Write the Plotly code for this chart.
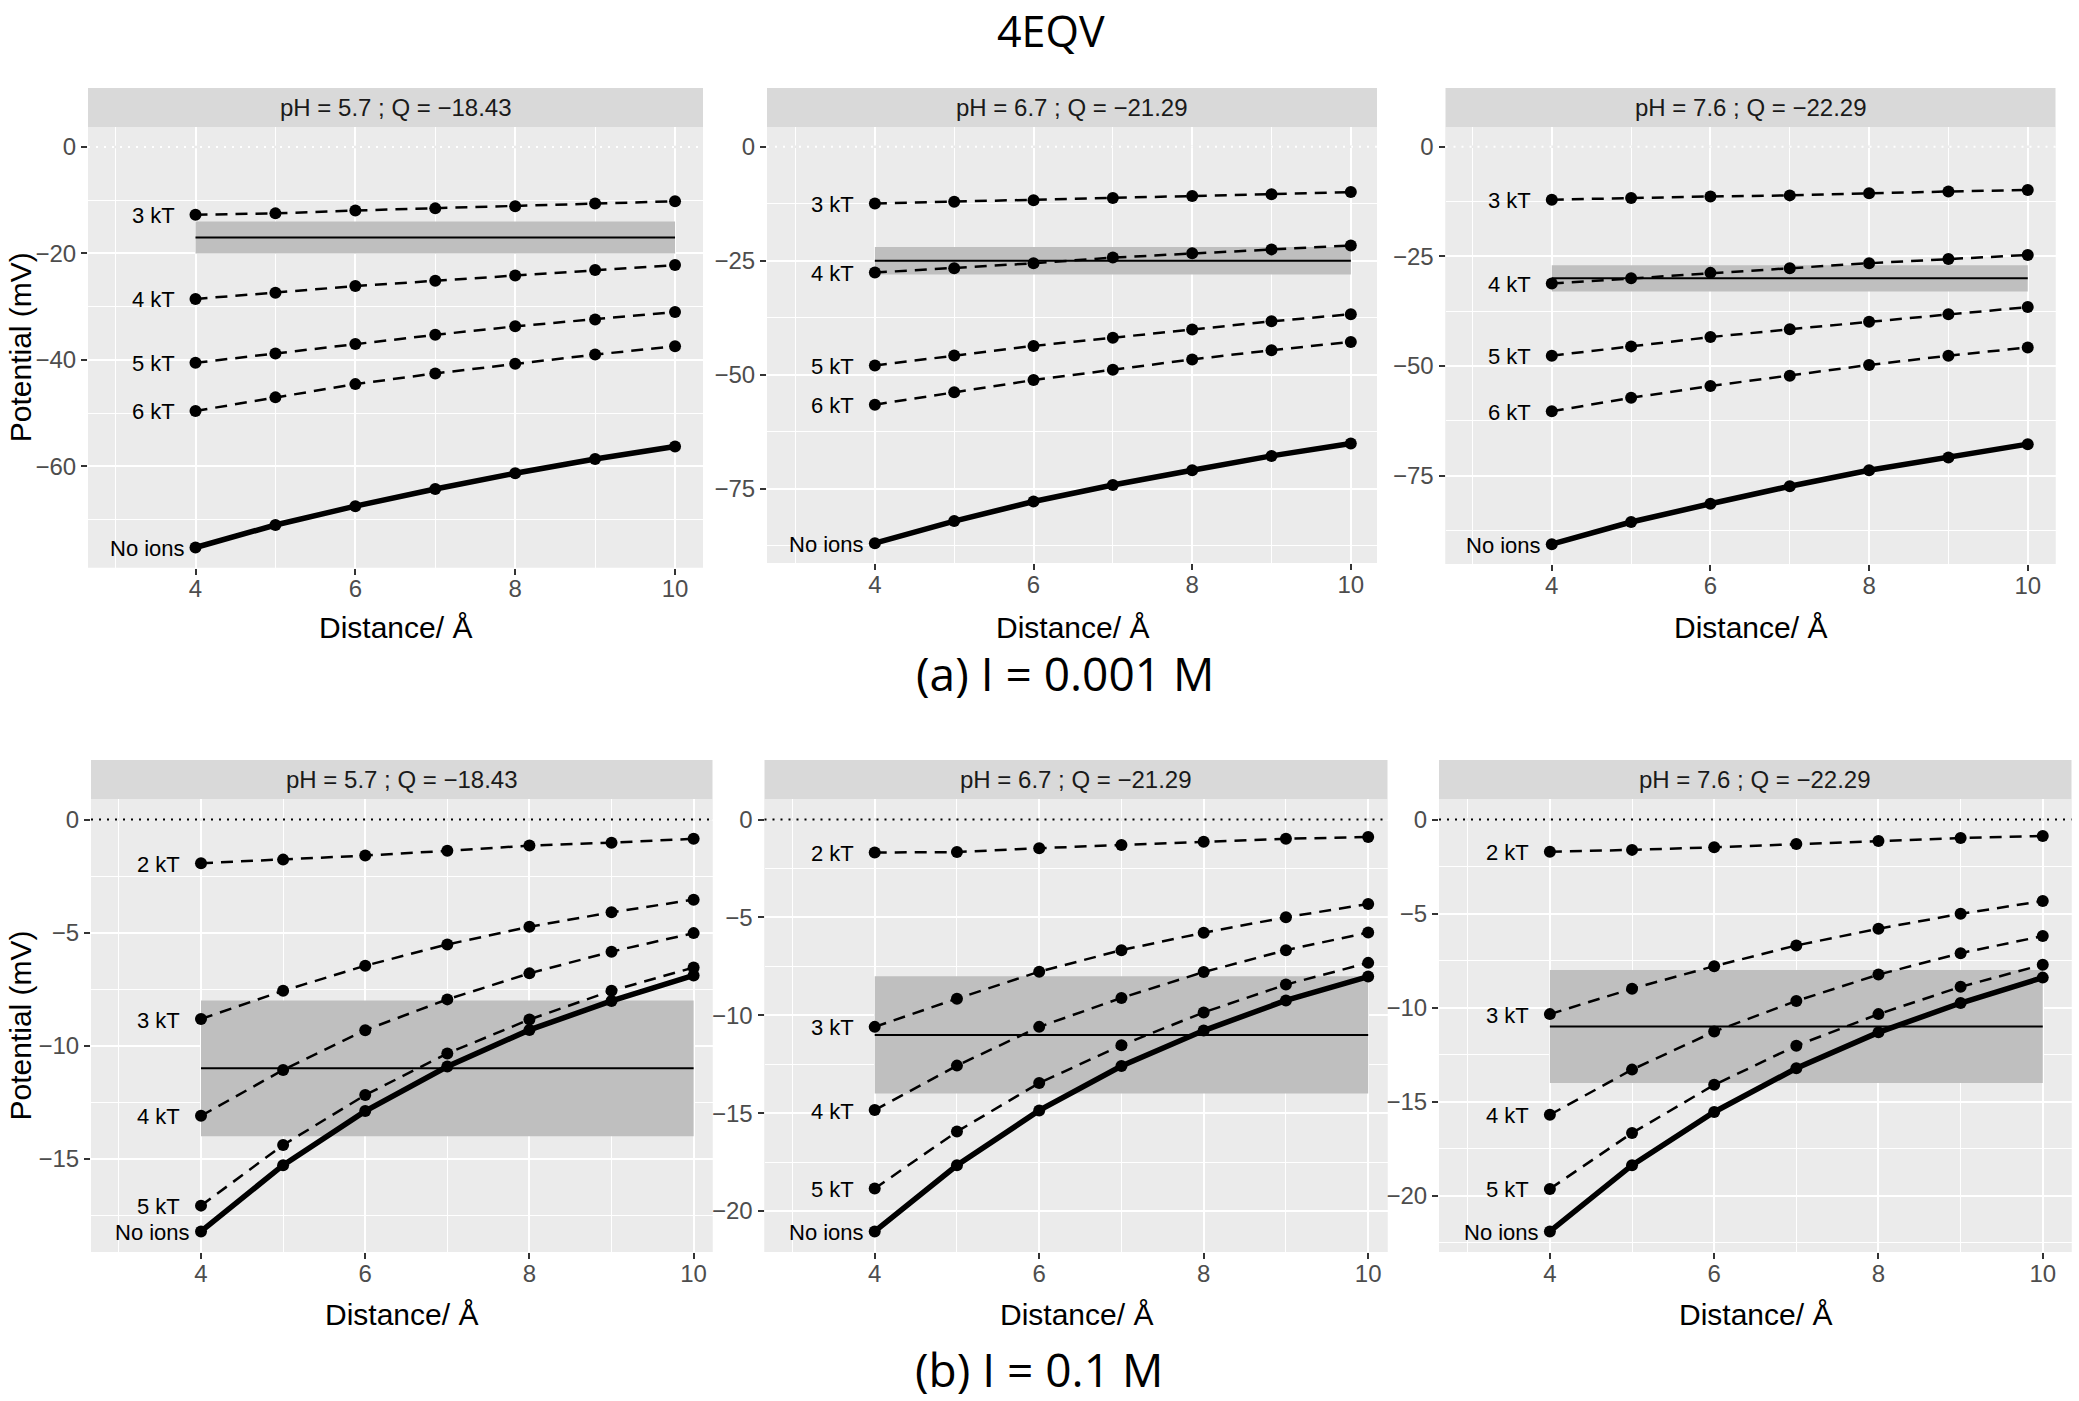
import plotly.graph_objects as go

W, H = 2079, 1401

distance = [4, 5, 6, 7, 8, 9, 10]

strip_titles = ["pH = 5.7 ; Q = \u221218.43", "pH = 6.7 ; Q = \u221221.29", "pH = 7.6 ; Q = \u221222.29"]

# ---- (a) I = 0.001 M ----
a_labels = ["3 kT", "4 kT", "5 kT", "6 kT", "No ions"]
a57_3kT = [-12.74, -12.47, -11.93, -11.53, -11.13, -10.60, -10.20]
a57_4kT = [-28.55, -27.40, -26.14, -25.14, -24.13, -23.13, -22.19]
a57_5kT = [-40.55, -38.80, -37.00, -35.30, -33.70, -32.40, -31.00]
a57_6kT = [-49.60, -47.05, -44.56, -42.55, -40.75, -39.00, -37.46]
a57_noions = [-75.26, -71.04, -67.50, -64.26, -61.32, -58.63, -56.29]

a67_3kT = [-12.42, -12.03, -11.72, -11.25, -10.78, -10.39, -9.92]
a67_4kT = [-27.58, -26.64, -25.55, -24.30, -23.36, -22.50, -21.64]
a67_5kT = [-47.97, -45.78, -43.67, -41.88, -40.08, -38.28, -36.72]
a67_6kT = [-56.56, -53.83, -51.17, -48.90, -46.64, -44.61, -42.81]
a67_noions = [-86.95, -82.10, -77.80, -74.20, -70.94, -67.80, -65.08]

a76_3kT = [-12.05, -11.65, -11.32, -11.07, -10.59, -10.18, -9.85]
a76_4kT = [-31.19, -29.97, -28.75, -27.69, -26.55, -25.57, -24.67]
a76_5kT = [-47.64, -45.52, -43.40, -41.61, -39.90, -38.19, -36.56]
a76_6kT = [-60.34, -57.25, -54.56, -52.20, -49.76, -47.64, -45.77]
a76_noions = [-90.64, -85.59, -81.43, -77.44, -73.78, -70.85, -67.83]

# ---- (b) I = 0.1 M ----
b_labels = ["2 kT", "3 kT", "4 kT", "5 kT", "No ions"]
b57_2kT = [-1.93, -1.77, -1.59, -1.38, -1.15, -1.02, -0.85]
b57_3kT = [-8.82, -7.57, -6.46, -5.52, -4.74, -4.10, -3.54]
b57_4kT = [-13.10, -11.07, -9.31, -7.95, -6.80, -5.84, -5.02]
b57_5kT = [-17.07, -14.39, -12.18, -10.34, -8.84, -7.57, -6.54]
b57_noions = [-18.21, -15.28, -12.89, -10.92, -9.30, -8.02, -6.89]

b67_2kT = [-1.68, -1.66, -1.46, -1.30, -1.13, -0.98, -0.89]
b67_3kT = [-10.59, -9.15, -7.77, -6.67, -5.78, -4.99, -4.31]
b67_4kT = [-14.84, -12.57, -10.59, -9.11, -7.79, -6.67, -5.77]
b67_5kT = [-18.85, -15.94, -13.46, -11.53, -9.85, -8.43, -7.32]
b67_noions = [-21.04, -17.66, -14.86, -12.59, -10.78, -9.24, -8.02]

b76_2kT = [-1.71, -1.61, -1.47, -1.30, -1.14, -0.98, -0.87]
b76_3kT = [-10.34, -8.99, -7.79, -6.69, -5.80, -5.01, -4.33]
b76_4kT = [-15.69, -13.29, -11.27, -9.64, -8.24, -7.10, -6.19]
b76_5kT = [-19.63, -16.66, -14.10, -12.02, -10.34, -8.89, -7.71]
b76_noions = [-21.89, -18.37, -15.54, -13.22, -11.31, -9.75, -8.40]

# shaded bands (centre, half-width) per panel
band_centre = [-17, -25, -30, -11, -11, -11]
band_half = [3, 3, 3, 3, 3, 3]

y_dtick = [20, 25, 25, 5, 5, 5]

panels_series = [
    (a_labels, [a57_3kT, a57_4kT, a57_5kT, a57_6kT, a57_noions]),
    (a_labels, [a67_3kT, a67_4kT, a67_5kT, a67_6kT, a67_noions]),
    (a_labels, [a76_3kT, a76_4kT, a76_5kT, a76_6kT, a76_noions]),
    (b_labels, [b57_2kT, b57_3kT, b57_4kT, b57_5kT, b57_noions]),
    (b_labels, [b67_2kT, b67_3kT, b67_4kT, b67_5kT, b67_noions]),
    (b_labels, [b76_2kT, b76_3kT, b76_4kT, b76_5kT, b76_noions]),
]

# panel boxes in pixels: left, right, top, bottom
boxes = [
    (88, 703, 127, 567.5),
    (767, 1377, 127, 563),
    (1445.5, 2055.5, 127, 564),
    (91, 712.5, 799, 1252),
    (764.5, 1387.5, 799, 1252),
    (1439, 2071.5, 799, 1252),
]
x_ranges = [(2.655, 10.35), (2.64, 10.33), (2.66, 10.35), (2.66, 10.23), (2.66, 10.235), (2.65, 10.35)]
strip_h = 39

FONT = "Liberation Sans, Arial, sans-serif"

def px(x):
    return x / W

def py(y):
    return 1 - y / H

fig = go.Figure()
layout = {}
annotations = []
shapes = []

for i in range(6):
    n = i + 1
    xa = "x" if n == 1 else f"x{n}"
    ya = "y" if n == 1 else f"y{n}"
    l, r, t, b = boxes[i]
    labels, series = panels_series[i]

    ymin = min(min(s) for s in series)
    span = 0 - ymin
    yr = [ymin - 0.05 * span, 0 + 0.05 * span]

    layout["xaxis" if n == 1 else f"xaxis{n}"] = dict(
        domain=[px(l), px(r)], anchor=ya, range=list(x_ranges[i]),
        tick0=0, dtick=2, showgrid=True, gridcolor="white", gridwidth=2,
        minor=dict(dtick=1, tick0=0, showgrid=True, gridcolor="white", gridwidth=1),
        zeroline=False, ticks="outside", ticklen=6, tickwidth=2, tickcolor="#333333",
        ticklabelstandoff=-6,
        tickfont=dict(family=FONT, size=24, color="#4d4d4d"), showline=False,
    )
    layout["yaxis" if n == 1 else f"yaxis{n}"] = dict(
        domain=[py(b), py(t)], anchor=xa, range=yr,
        tick0=0, dtick=y_dtick[i], showgrid=True, gridcolor="white", gridwidth=2,
        minor=dict(dtick=y_dtick[i] / 2, tick0=0, showgrid=True, gridcolor="white", gridwidth=1),
        zeroline=False, ticks="outside", ticklen=6, tickwidth=2, tickcolor="#333333",
        tickfont=dict(family=FONT, size=24, color="#4d4d4d"), showline=False,
    )

    # panel background
    shapes.append(dict(type="rect", xref="paper", yref="paper", x0=px(l), x1=px(r), y0=py(b), y1=py(t),
                       fillcolor="#ebebeb", line=dict(width=0), layer="below"))
    # strip
    shapes.append(dict(type="rect", xref="paper", yref="paper", x0=px(l), x1=px(r), y0=py(t), y1=py(t - strip_h),
                       fillcolor="#d9d9d9", line=dict(width=0), layer="below"))
    annotations.append(dict(text=strip_titles[i % 3], xref="paper", yref="paper", x=px((l + r) / 2),
                            y=py(t - strip_h / 2), showarrow=False, xanchor="center", yanchor="middle",
                            font=dict(family=FONT, size=24, color="#1a1a1a")))

    # zero dotted line
    zc = "white" if i < 3 else "black"
    shapes.append(dict(type="line", xref=f"{xa} domain", yref=ya, x0=0, x1=1, y0=0, y1=0,
                       line=dict(color="#ebebeb", width=2.5), layer="above"))
    shapes.append(dict(type="line", xref=f"{xa} domain", yref=ya, x0=0, x1=1, y0=0, y1=0,
                       line=dict(color=zc, width=2, dash="2px,6px"), layer="above"))

    # band
    c, h = band_centre[i], band_half[i]
    fig.add_trace(go.Scatter(x=[4, 10, 10, 4, 4], y=[c - h, c - h, c + h, c + h, c - h], mode="lines",
                             fill="toself", fillcolor="#bfbfbf", line=dict(width=0), xaxis=xa, yaxis=ya,
                             hoverinfo="skip", showlegend=False))
    fig.add_trace(go.Scatter(x=[4, 10], y=[c, c], mode="lines", line=dict(color="black", width=2),
                             xaxis=xa, yaxis=ya, hoverinfo="skip", showlegend=False))

    for lab, s in zip(labels, series):
        solid = lab == "No ions"
        fig.add_trace(go.Scatter(
            x=distance, y=s, mode="lines+markers", xaxis=xa, yaxis=ya, showlegend=False,
            line=dict(color="black", width=5.5 if solid else 2.5, dash="solid" if solid else "12px,8px"),
            marker=dict(color="black", size=12),
        ))
        annotations.append(dict(text=lab, xref=xa, yref=ya, x=distance[0], y=s[0], showarrow=False,
                                xanchor="right", yanchor="middle", xshift=-9 if solid else -19, yshift=-1,
                                font=dict(family=FONT, size=22, color="black")))

    # x-axis title
    ty = 627 if i < 3 else 1314
    annotations.append(dict(text="Distance/ \u00c5", xref="paper", yref="paper", x=px((l + r) / 2), y=py(ty),
                            showarrow=False, xanchor="center", yanchor="middle",
                            font=dict(family=FONT, size=30, color="black")))
    if i in (0, 3):
        annotations.append(dict(text="Potential (mV)", xref="paper", yref="paper", x=px(20), y=py((t + b) / 2),
                                showarrow=False, textangle=-90, xanchor="center", yanchor="middle",
                                font=dict(family=FONT, size=30, color="black")))

TFONT = "Open Sans, Noto Sans, sans-serif"
annotations.append(dict(text="4EQV", xref="paper", yref="paper", x=px(1051), y=1, showarrow=False, borderpad=0,
                        xanchor="center", yanchor="top", font=dict(family=TFONT, size=43, color="black")))
annotations.append(dict(text="(a) I = 0.001 M", xref="paper", yref="paper", x=px(914), y=py(673), showarrow=False,
                        xanchor="left", yanchor="middle", font=dict(family=TFONT, size=46, color="black")))
annotations.append(dict(text="(b) I = 0.1 M", xref="paper", yref="paper", x=px(914), y=0, showarrow=False, borderpad=0,
                        xanchor="left", yanchor="bottom", font=dict(family=TFONT, size=46, color="black")))

fig.update_layout(
    width=W, height=H, margin=dict(l=0, r=0, t=0, b=0, pad=0),
    paper_bgcolor="white", plot_bgcolor="#ebebeb", showlegend=False,
    annotations=annotations, shapes=shapes, **layout,
)

fig.write_html("out.html", config={"displayModeBar": False},
               post_script="document.body.style.margin='0';document.body.style.overflow='hidden';")
